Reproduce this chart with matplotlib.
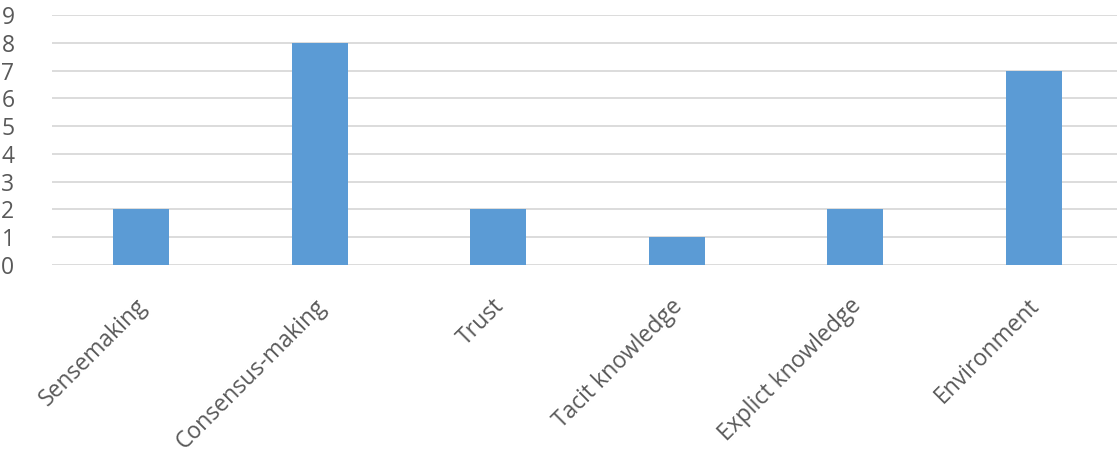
import matplotlib
matplotlib.use("Agg")
import matplotlib.pyplot as plt
import matplotlib.transforms as mtransforms

categories = ["Sensemaking", "Consensus-making", "Trust", "Tacit knowledge", "Explict knowledge", "Environment"]
values = [2, 8, 2, 1, 2, 7]
yticks = list(range(0, 10))

plt.rcParams['font.family'] = ['Open Sans', 'DejaVu Sans']

W, H = 1117, 453
fig = plt.figure(figsize=(W / 100, H / 100), dpi=100)
left, right, top, bottom = 52, 1117, 15, 265
ax = fig.add_axes([left / W, 1 - bottom / H, (right - left) / W, (bottom - top) / H])

x = list(range(len(categories)))
ax.bar(x, values, width=0.314, color="#5B9BD5", zorder=3)
ax.set_xlim(-0.5, -0.5 + (right - left) / 178.5)
ax.set_ylim(0, 9)
ax.set_yticks(yticks)
ax.set_yticklabels([str(t) for t in yticks])
ax.yaxis.grid(True, color="#d9d9d9", linewidth=1.3, zorder=0)
ax.set_axisbelow(True)
for s in ax.spines.values():
    s.set_visible(False)
ax.tick_params(axis="y", length=0, pad=27, labelsize=16.5, labelcolor="#595959")
ax.tick_params(axis="x", length=0, pad=21, labelsize=16.5, labelcolor="#595959")
ax.set_xticks(x)
ax.set_xticklabels(categories, rotation=45, ha="right", rotation_mode="anchor")
offset = mtransforms.ScaledTranslation(-6 / 100, 0, fig.dpi_scale_trans)
for lbl in ax.get_xticklabels():
    lbl.set_transform(lbl.get_transform() + offset)
for lbl in ax.get_yticklabels():
    lbl.set_horizontalalignment("right")

fig.savefig("out.png", dpi=100)
